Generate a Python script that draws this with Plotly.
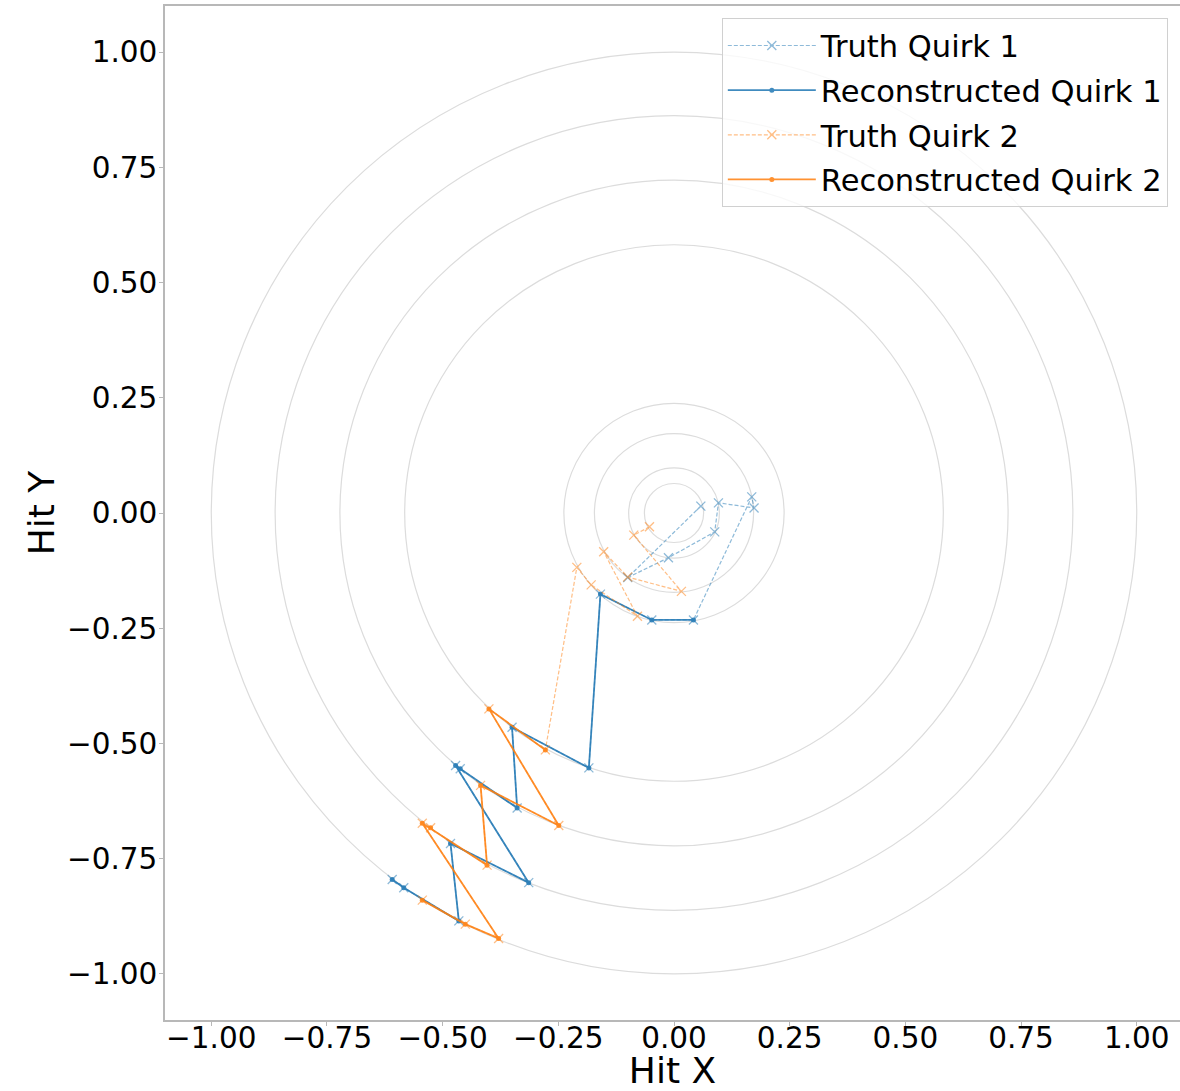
import plotly.graph_objects as go

# Detector layer radii (normalised)
layer_radii = [0.064, 0.098, 0.172, 0.238, 0.582, 0.722, 0.862, 1.0]

# Truth Quirk 1 hits
truth1_x = [0.058, -0.100, -0.012, 0.088, 0.096, 0.173, 0.168, 0.042, -0.048, -0.159,
            -0.184, -0.350, -0.339, -0.462, -0.472, -0.314, -0.483, -0.465, -0.584, -0.609]
truth1_y = [0.015, -0.140, -0.097, -0.041, 0.022, 0.011, 0.035, -0.232, -0.232, -0.176,
            -0.553, -0.465, -0.640, -0.555, -0.548, -0.802, -0.717, -0.885, -0.813, -0.795]

# Reconstructed Quirk 1 hits
reco1_x = [0.042, -0.048, -0.159, -0.184, -0.350, -0.339, -0.462, -0.472, -0.314, -0.483,
           -0.465, -0.584, -0.609]
reco1_y = [-0.232, -0.232, -0.176, -0.553, -0.465, -0.640, -0.555, -0.548, -0.802, -0.717,
           -0.885, -0.813, -0.795]

# Truth Quirk 2 hits
truth2_x = [-0.053, -0.087, 0.016, -0.100, -0.152, -0.079, -0.179, -0.210,
            -0.278, -0.400, -0.249, -0.418, -0.404, -0.526, -0.544, -0.379, -0.451, -0.544]
truth2_y = [-0.030, -0.048, -0.170, -0.139, -0.084, -0.224, -0.156, -0.118,
            -0.514, -0.425, -0.678, -0.591, -0.764, -0.683, -0.673, -0.923, -0.892, -0.840]

# Reconstructed Quirk 2 hits
reco2_x = [-0.278, -0.400, -0.249, -0.418, -0.404, -0.526, -0.544, -0.379, -0.451, -0.544]
reco2_y = [-0.514, -0.425, -0.678, -0.591, -0.764, -0.683, -0.673, -0.923, -0.892, -0.840]

tick_vals = [-1.0, -0.75, -0.5, -0.25, 0.0, 0.25, 0.5, 0.75, 1.0]
tick_text = ["\u22121.00", "\u22120.75", "\u22120.50", "\u22120.25", "0.00", "0.25", "0.50", "0.75", "1.00"]

BLUE = "#1f77b4"
ORANGE = "#ff7f0e"
FONT = "DejaVu Sans"

fig = go.Figure()

fig.add_trace(go.Scatter(
    x=truth1_x, y=truth1_y, mode="lines+markers", name="Truth Quirk 1",
    line=dict(color=BLUE, width=1.2, dash="4px,2px"),
    marker=dict(symbol="x-thin", size=9, line=dict(color=BLUE, width=1.3)),
    opacity=0.5, legendgroup="a"))
fig.add_trace(go.Scatter(
    x=reco1_x, y=reco1_y, mode="lines+markers", name="Reconstructed Quirk 1",
    line=dict(color=BLUE, width=1.8),
    marker=dict(symbol="circle", size=5, color=BLUE),
    opacity=0.85, legendgroup="b"))
fig.add_trace(go.Scatter(
    x=truth2_x, y=truth2_y, mode="lines+markers", name="Truth Quirk 2",
    line=dict(color=ORANGE, width=1.2, dash="4px,2px"),
    marker=dict(symbol="x-thin", size=9, line=dict(color=ORANGE, width=1.3)),
    opacity=0.5, legendgroup="c"))
fig.add_trace(go.Scatter(
    x=reco2_x, y=reco2_y, mode="lines+markers", name="Reconstructed Quirk 2",
    line=dict(color=ORANGE, width=1.8),
    marker=dict(symbol="circle", size=5, color=ORANGE),
    opacity=0.85, legendgroup="d"))

for r in layer_radii:
    fig.add_shape(type="circle", xref="x", yref="y", x0=-r, y0=-r, x1=r, y1=r,
                  line=dict(color="#dcdcdc", width=1.2), layer="below")

fig.update_layout(
    width=1180, height=1091,
    margin=dict(l=165, r=0, t=6, b=71),
    paper_bgcolor="white", plot_bgcolor="white",
    font=dict(family=FONT, size=29, color="black"),
    showlegend=True,
    legend=dict(x=0.988, y=0.988, xanchor="right", yanchor="top",
                bgcolor="rgba(255,255,255,0.8)", bordercolor="#d0d0d0", borderwidth=1,
                font=dict(family=FONT, size=30.5, color="black"),
                tracegroupgap=2, traceorder="grouped", itemwidth=88),
)
fig.update_xaxes(range=[-1.1, 1.0935], tickvals=tick_vals, ticktext=tick_text,
                 showgrid=False, zeroline=False, showline=True, mirror=True,
                 linecolor="#b8b8b8", linewidth=1.5, ticks="outside", ticklen=4,
                 tickcolor="#b8b8b8", tickfont=dict(size=29.5, family=FONT),
                 ticklabelstandoff=-13,
                 title=dict(text="Hit X", font=dict(size=36, family=FONT), standoff=20),
                 automargin=False)
fig.update_yaxes(range=[-1.1, 1.1], tickvals=tick_vals, ticktext=tick_text,
                 showgrid=False, zeroline=False, showline=True, mirror=False,
                 linecolor="#b8b8b8", linewidth=1.5, ticks="outside", ticklen=4,
                 tickcolor="#b8b8b8", tickfont=dict(size=29.5, family=FONT),
                 ticklabelstandoff=-4,
                 title=dict(text="Hit Y", font=dict(size=36, family=FONT), standoff=1),
                 automargin=False)

fig.write_html("out.html")
